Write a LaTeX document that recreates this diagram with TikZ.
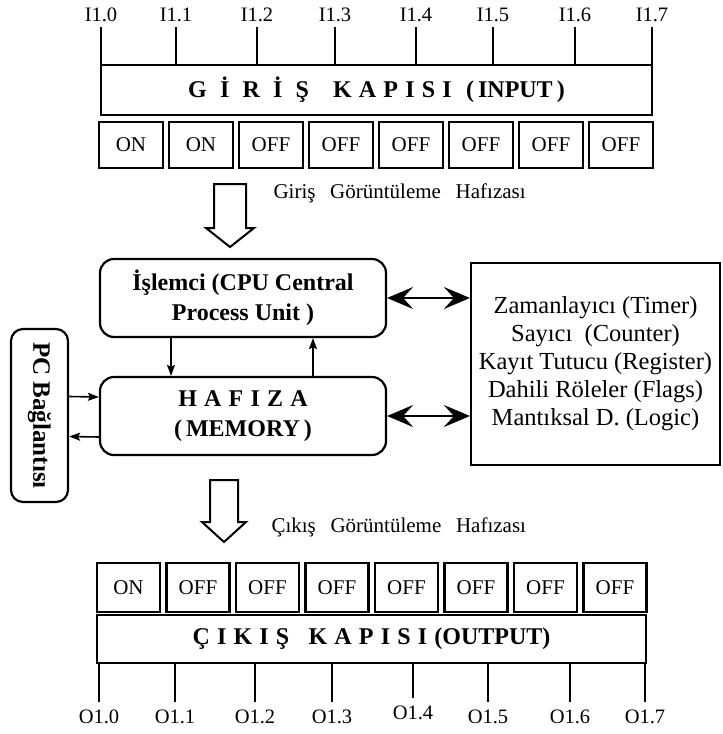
\documentclass[tikz,border=0pt]{standalone}
\usepackage{fontspec}
\setmainfont{Liberation Serif}
\newfontfamily\spacedfont[LetterSpace=30]{Liberation Serif}
\usetikzlibrary{arrows.meta}

\begin{document}
\begin{tikzpicture}[
    x=1pt, y=-1pt,
    every node/.style={font=\fontsize{20}{24}\selectfont},
    portbox/.style={
        draw,
        line width=2.2pt,
        inner sep=0pt,
        font=\fontsize{24}{28}\selectfont\bfseries
    },
    bitbox/.style={
        draw,
        line width=2.2pt,
        inner sep=0pt,
        minimum width=64pt,
        font=\fontsize{21}{24}\selectfont
    },
    mainbox/.style={
        draw,
        line width=2.2pt,
        rounded corners=14pt,
        align=center,
        inner sep=0pt,
        minimum width=286pt,
        minimum height=78pt,
        font=\fontsize{24}{29.5}\selectfont\bfseries
    },
    pinlabel/.style={font=\fontsize{20.5}{24}\selectfont},
    pin/.style={line width=1.8pt},
    hollow/.style={line width=2pt, line join=miter},
    arr/.style={-{Stealth[length=11pt,width=8pt,inset=2pt]}, line width=1.6pt},
    bigarr/.style={{Stealth[length=26pt,width=22pt,inset=10pt]}-{Stealth[length=26pt,width=22pt,inset=10pt]}, line width=2pt}
]
    \useasboundingbox (0,0) rectangle (723,734);

    % Input port
    \node[portbox, minimum width=551pt, minimum height=50pt] (inport) at (376.5,90)
        {{\spacedfont G İ R İ Ş}\hspace{1em}{\spacedfont KAPISI}\hspace{0.6em}(\,INPUT\,)};

    \node[pinlabel, inner sep=5pt] (i0) at (101,15) {I1.0};
    \node[pinlabel, inner sep=5pt] (i1) at (176,15) {I1.1};
    \node[pinlabel, inner sep=5pt] (i2) at (257,15) {I1.2};
    \node[pinlabel, inner sep=5pt] (i3) at (335,15) {I1.3};
    \node[pinlabel, inner sep=5pt] (i4) at (416,15) {I1.4};
    \node[pinlabel, inner sep=5pt] (i5) at (493,15) {I1.5};
    \node[pinlabel, inner sep=5pt] (i6) at (575,15) {I1.6};
    \node[pinlabel, inner sep=5pt] (i7) at (652,15) {I1.7};

    \draw[pin] (i0.south) -- (i0.south |- inport.north);
    \draw[pin] (i1.south) -- (i1.south |- inport.north);
    \draw[pin] (i2.south) -- (i2.south |- inport.north);
    \draw[pin] (i3.south) -- (i3.south |- inport.north);
    \draw[pin] (i4.south) -- (i4.south |- inport.north);
    \draw[pin] (i5.south) -- (i5.south |- inport.north);
    \draw[pin] (i6.south) -- (i6.south |- inport.north);
    \draw[pin] (i7.south) -- (i7.south |- inport.north);

    \node[bitbox, minimum height=46pt] (inbit0) at (131,145) {ON};
    \node[bitbox, minimum height=46pt] (inbit1) at (201,145) {ON};
    \node[bitbox, minimum height=46pt] (inbit2) at (271,145) {OFF};
    \node[bitbox, minimum height=46pt] (inbit3) at (341,145) {OFF};
    \node[bitbox, minimum height=46pt] (inbit4) at (411,145) {OFF};
    \node[bitbox, minimum height=46pt] (inbit5) at (481,145) {OFF};
    \node[bitbox, minimum height=46pt] (inbit6) at (551,145) {OFF};
    \node[bitbox, minimum height=46pt] (inbit7) at (621,145) {OFF};

    % Input image memory
    \draw[hollow] (214,184) -- (246,184) -- (246,228) -- (254,228) -- (230,247)
        -- (206,228) -- (214,228) -- cycle;
    \node[anchor=west, font=\fontsize{21}{24}\selectfont] (inimage) at (270,193)
        {Giriş\hspace{0.7em}Görüntüleme\hspace{0.7em}Hafızası};

    % CPU and memory
    \node[mainbox] (cpu) at (243,298) {İşlemci (CPU Central\\Process Unit )};
    \node[mainbox] (mem) at (243,416)
        {{\spacedfont HAFIZA}\\(\,MEMORY\,)};

    \node[
        draw,
        line width=2.2pt,
        inner sep=0pt,
        minimum width=249pt,
        minimum height=202pt,
        align=center,
        font=\fontsize{24.5}{28}\selectfont
    ] (regs) at (595.5,364)
        {Zamanlayıcı (Timer)\\Sayıcı\ \ (Counter)\\Kayıt Tutucu (Register)\\Dahili Röleler (Flags)\\Mantıksal D. (Logic)};

    \node[
        draw,
        line width=2.2pt,
        rounded corners=12pt,
        inner sep=0pt,
        minimum width=173pt,
        minimum height=57pt,
        rotate=-90,
        font=\fontsize{25}{28}\selectfont\bfseries
    ] (pc) at (39.5,415.5) {PC Bağlantısı};

    \draw[bigarr] (cpu.east) -- (cpu.east -| regs.west);
    \draw[bigarr] (mem.east) -- (mem.east -| regs.west);

    \draw[arr] ([xshift=-72pt]cpu.south) -- ([xshift=-72pt]mem.north);
    \draw[arr] ([xshift=70pt]mem.north) -- ([xshift=70pt]cpu.south);

    \draw[arr] ([yshift=19pt]pc.north) -- ([yshift=19pt]mem.west);
    \draw[arr] ([yshift=-21pt]mem.west) -- ([yshift=-21pt]pc.north);

    % Output image memory
    \draw[hollow] (210,480) -- (238,480) -- (238,522) -- (246,522) -- (224,542)
        -- (202,522) -- (210,522) -- cycle;
    \node[anchor=west, font=\fontsize{21}{24}\selectfont] (outimage) at (268,527)
        {Çıkış\hspace{0.7em}Görüntüleme\hspace{0.7em}Hafızası};

    % Output port
    \node[bitbox, minimum width=63pt, minimum height=49pt] (outbit0) at (128.5,587.5) {ON};
    \node[bitbox, minimum width=63pt, minimum height=49pt] (outbit1) at (198,587.5) {OFF};
    \node[bitbox, minimum width=63pt, minimum height=49pt] (outbit2) at (267.5,587.5) {OFF};
    \node[bitbox, minimum width=63pt, minimum height=49pt] (outbit3) at (337,587.5) {OFF};
    \node[bitbox, minimum width=63pt, minimum height=49pt] (outbit4) at (406.5,587.5) {OFF};
    \node[bitbox, minimum width=63pt, minimum height=49pt] (outbit5) at (476,587.5) {OFF};
    \node[bitbox, minimum width=63pt, minimum height=49pt] (outbit6) at (545.5,587.5) {OFF};
    \node[bitbox, minimum width=63pt, minimum height=49pt] (outbit7) at (615,587.5) {OFF};

    \node[portbox, minimum width=549pt, minimum height=48pt] (outport) at (371.5,639)
        {{\spacedfont ÇIKIŞ}\hspace{0.8em}{\spacedfont KAPISI}\hspace{0.3em}(OUTPUT)};

    \node[pinlabel, inner sep=8pt] (o0) at (99,717) {O1.0};
    \node[pinlabel, inner sep=8pt] (o1) at (175,717) {O1.1};
    \node[pinlabel, inner sep=8pt] (o2) at (255,717) {O1.2};
    \node[pinlabel, inner sep=8pt] (o3) at (332,717) {O1.3};
    \node[pinlabel, inner sep=8pt] (o4) at (413,713) {O1.4};
    \node[pinlabel, inner sep=8pt] (o5) at (488,717) {O1.5};
    \node[pinlabel, inner sep=8pt] (o6) at (570,717) {O1.6};
    \node[pinlabel, inner sep=8pt] (o7) at (645,717) {O1.7};

    \draw[pin] (o0.north |- outport.south) -- (o0.north);
    \draw[pin] (o1.north |- outport.south) -- (o1.north);
    \draw[pin] (o2.north |- outport.south) -- (o2.north);
    \draw[pin] (o3.north |- outport.south) -- (o3.north);
    \draw[pin] (o4.north |- outport.south) -- (o4.north);
    \draw[pin] (o5.north |- outport.south) -- (o5.north);
    \draw[pin] (o6.north |- outport.south) -- (o6.north);
    \draw[pin] (o7.north |- outport.south) -- (o7.north);

\end{tikzpicture}
\end{document}
